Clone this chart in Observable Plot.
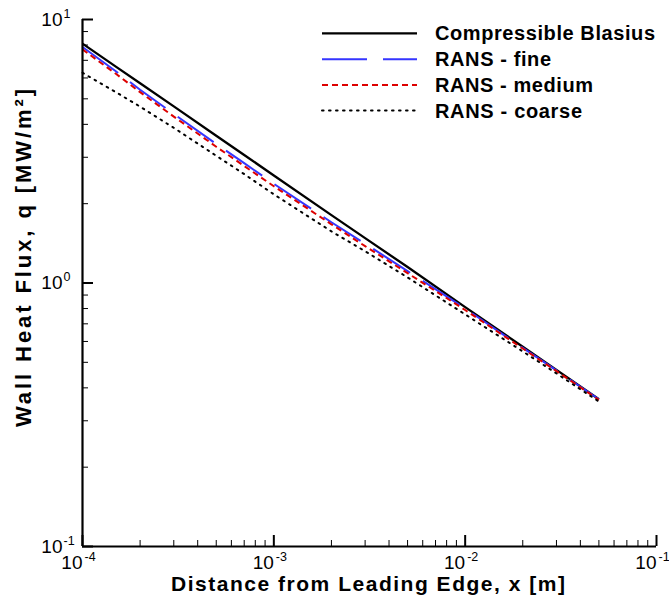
<!DOCTYPE html>
<html><head><meta charset="utf-8">
<script src="https://cdn.jsdelivr.net/npm/d3@7"></script>
<script src="https://cdn.jsdelivr.net/npm/@observablehq/plot@0.6"></script>
<style>
body{margin:0;background:#fff}
#chart{position:relative;width:669px;height:599px}
</style>
</head><body><div id="chart"></div>
<script>
// Distance from leading edge x [m]
const xPos = [1e-4, 1.5e-4, 2e-4, 3e-4, 5e-4, 7e-4, 1e-3, 2e-3, 3e-3, 5e-3, 1e-2, 2e-2, 3e-2, 5e-2];
// Wall heat flux q [MW/m^2]
const blasius    = [8.10, 6.61, 5.73, 4.68, 3.62, 3.06, 2.56, 1.81, 1.48, 1.15, 0.81, 0.573, 0.468, 0.362];
const ransFine   = [7.86, 6.35, 5.41, 4.38, 3.37, 2.85, 2.38, 1.70, 1.41, 1.11, 0.80, 0.567, 0.466, 0.362];
const ransMedium = [7.70, 6.21, 5.30, 4.28, 3.29, 2.78, 2.33, 1.67, 1.38, 1.09, 0.79, 0.564, 0.463, 0.360];
const ransCoarse = [6.28, 5.29, 4.67, 3.88, 3.04, 2.59, 2.17, 1.57, 1.32, 1.05, 0.76, 0.550, 0.454, 0.355];

const seriesNames = ["Compressible Blasius", "RANS - fine", "RANS - medium", "RANS - coarse"];
const seriesValues = [blasius, ransFine, ransMedium, ransCoarse];

// tick values / labels
const xMajor = [1e-4, 1e-3, 1e-2, 1e-1];
const xExp = ["-4", "-3", "-2", "-1"];
const yMajor = [0.1, 1, 10];
const yExp = ["-1", "0", "1"];
const minorMult = [2, 3, 4, 5, 6, 7, 8, 9];

// styles
const strokes = ["#000000", "#3535ff", "#dd0000", "#000000"];
const dashes = [null, "44,15", "6,4", "1.6,5.4"];
const widths = [2.3, 2, 2, 2];

const table = [];
seriesNames.forEach((name, s) => {
  seriesValues[s].forEach((q, i) => table.push({x: xPos[i], q, series: name}));
});
const xMinor = xMajor.slice(0, -1).flatMap(d => minorMult.map(m => d * m));
const yMinor = yMajor.slice(0, -1).flatMap(d => minorMult.map(m => d * m));
const xExpMap = new Map(xMajor.map((d, i) => [d, xExp[i]]));
const yExpMap = new Map(yMajor.map((d, i) => [d, yExp[i]]));

const font = "'Liberation Sans', Arial, Helvetica, sans-serif";

const W = 669, H = 599, mL = 82, mR = 13, mT = 19, mB = 53;
const frameW = W - mL - mR, frameH = H - mT - mB;
const minorLen = 6, majorLen = 11;

const lineMarks = seriesNames.map((name, s) =>
  Plot.line(table.filter(d => d.series === name), {
    x: "x", y: "q", stroke: strokes[s], strokeWidth: widths[s],
    strokeDasharray: dashes[s], strokeLinecap: s === 3 ? "round" : "butt"
  })
);

const chart = Plot.plot({
  width: W, height: H,
  marginLeft: mL, marginRight: mR, marginTop: mT, marginBottom: mB,
  style: {fontFamily: font, background: "#fff", color: "#000", overflow: "visible"},
  x: {type: "log", domain: [1e-4, 1e-1]},
  y: {type: "log", domain: [0.1, 10]},
  marks: [
    ...lineMarks,
    // inward ticks: rules at tick values, inset so only a short stub remains at the frame edge
    Plot.ruleX(xMinor, {strokeWidth: 1, insetTop: frameH - minorLen}),
    Plot.ruleX(xMajor, {strokeWidth: 2, insetTop: frameH - majorLen}),
    Plot.ruleY(yMinor, {strokeWidth: 1, insetRight: frameW - minorLen}),
    Plot.ruleY(yMajor, {strokeWidth: 2, insetRight: frameW - majorLen}),
    // tick labels "10" + superscript exponent
    Plot.axisX(xMajor, {tickSize: 0, tickPadding: 9, tickFormat: () => "10", textAnchor: "end", fontSize: 19, label: null}),
    Plot.axisX(xMajor, {tickSize: 0, tickPadding: 6, tickFormat: d => xExpMap.get(d), textAnchor: "start", dx: 2, fontSize: 12.5, label: null}),
    Plot.axisY(yMajor, {tickSize: 0, tickPadding: 20, tickFormat: () => "10", textAnchor: "end", fontSize: 19, label: null}),
    Plot.axisY(yMajor, {tickSize: 0, tickPadding: 20, tickFormat: d => yExpMap.get(d), textAnchor: "start", dx: 1, dy: -6, fontSize: 12.5, label: null}),
    // axis lines
    Plot.ruleX([1e-4], {strokeWidth: 2.2}),
    Plot.ruleY([0.1], {strokeWidth: 2.2})
  ]
});

const svg = d3.select(chart);
// axis titles
svg.append("text")
  .attr("x", 368).attr("y", 591)
  .attr("text-anchor", "middle")
  .attr("font-family", font).attr("font-weight", "bold").attr("font-size", 21)
  .attr("textLength", 394).attr("lengthAdjust", "spacing")
  .text("Distance from Leading Edge, x [m]");
svg.append("text")
  .attr("transform", "translate(30.5,258) rotate(-90)")
  .attr("text-anchor", "middle")
  .attr("font-family", font).attr("font-weight", "bold").attr("font-size", 22)
  .attr("textLength", 338).attr("lengthAdjust", "spacing")
  .text("Wall Heat Flux, q [MW/m²]");

// legend
const legY = [33.3, 59.3, 85, 110.5];
const legW = [220, 116, 158, 147];
const lg = svg.append("g");
seriesNames.forEach((name, s) => {
  lg.append("line")
    .attr("x1", 322).attr("x2", 417).attr("y1", legY[s]).attr("y2", legY[s])
    .attr("stroke", strokes[s]).attr("stroke-width", widths[s])
    .attr("stroke-dasharray", s === 1 ? "45,16" : dashes[s])
    .attr("stroke-linecap", s === 3 ? "round" : "butt");
  lg.append("text")
    .attr("x", 435).attr("y", legY[s]).attr("dy", "0.35em")
    .attr("text-anchor", "start")
    .attr("font-family", font).attr("font-weight", "bold").attr("font-size", 20)
    .attr("textLength", legW[s]).attr("lengthAdjust", "spacing")
    .text(name);
});

document.getElementById("chart").appendChild(chart);
</script>
</body></html>
